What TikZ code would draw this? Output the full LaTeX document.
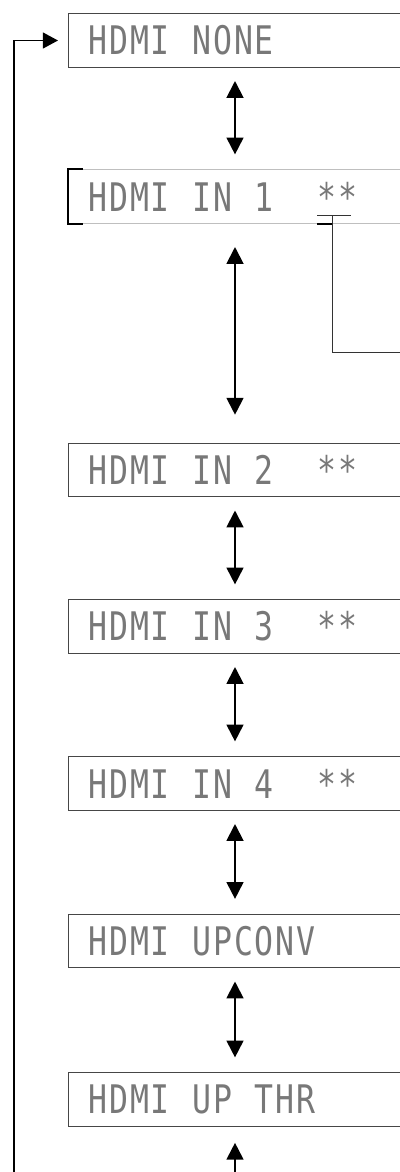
\documentclass[tikz,border=0pt]{standalone}
\usepackage{fontspec}
\newfontfamily\lcdfont[FakeStretch=0.8]{DejaVu Sans Mono}
\usetikzlibrary{arrows.meta, positioning, calc}
\definecolor{cadre}{RGB}{70,70,70}
\definecolor{lcd}{RGB}{120,120,120}
% un caractère par case, comme sur l'afficheur
\ExplSyntaxOn
\dim_new:N \l_lcd_pas_dim
\dim_set:Nn \l_lcd_pas_dim {0.52cm}
\NewDocumentCommand{\lcd}{m}
	{
		\str_map_inline:nn {#1}
			{
				\str_if_eq:eeTF {##1} {\c_tilde_str}
					{ \hbox_to_wd:nn { \l_lcd_pas_dim } { \hfil } }
					{ \hbox_to_wd:nn { \l_lcd_pas_dim } { ##1 \hfil } }
			}
	}
\ExplSyntaxOff

\begin{document}
\begin{tikzpicture}[x=0.025cm, y=-0.025cm,
				>=Triangle,
				ecran/.style={draw=cadre, line width=0.7pt, anchor=west,
					minimum height=1.34cm, text width=8cm, inner xsep=0.5cm,
					inner ysep=0pt, align=left, text=lcd,
					font=\lcdfont\fontsize{28}{30}\selectfont},
				fleche/.style={<->, line width=1.4pt,
					>={Triangle[length=0.42cm, width=0.42cm]},
					shorten <=0.33cm, shorten >=0.37cm},
				boucle/.style={->, line width=1.1pt,
					>={Triangle[length=0.38cm, width=0.4cm]}},
				liaison/.style={draw=black!80, line width=0.7pt}
				]
				\path[use as bounding box, clip] (0,0) rectangle (400,1172);
				
				% Les écrans
				\node[ecran] (b1) at (68,40.5)   {\lcd{HDMI~NONE}};
				\node[ecran, draw=black!25] (b2) at (68,196.5) {\lcd{HDMI~IN~1~~**}};
				\node[ecran] (b3) at (68,470)    {\lcd{HDMI~IN~2~~**}};
				\node[ecran] (b4) at (68,626.5)  {\lcd{HDMI~IN~3~~**}};
				\node[ecran] (b5) at (68,783.5)  {\lcd{HDMI~IN~4~~**}};
				\node[ecran] (b6) at (68,941)    {\lcd{HDMI~UPCONV}};
				\node[ecran] (b7) at (68,1099.5) {\lcd{HDMI~UP~THR}};
				
				\coordinate (axe) at (235,0);
				\coordinate (bas) at (235,1172);
				\coordinate (retour) at (14,1172);
				
				% Entre les écrans
				\draw[fleche] (b1.south -| axe) -- (b2.north -| axe);
				\draw[fleche, shorten <=0.58cm, shorten >=0.7cm] (b2.south -| axe) -- (b3.north -| axe);
				\foreach \a/\b in {b3/b4, b4/b5, b5/b6, b6/b7}
				\draw[fleche] (\a.south -| axe) -- (\b.north -| axe);
				\draw[fleche, <-, shorten <=0.4cm, shorten >=0pt] (b7.south -| axe) -- (bas);
				\draw[boucle, shorten >=0.25cm] (retour) |- (b1.west);
				
				% Repère sur HDMI IN 1
				\draw[line width=1.1pt] ($(b2.north west)+(15,0)$) -- (b2.north west)
					-- (b2.south west) -- ($(b2.south west)+(15,0)$);
				\coordinate (sg) at (317,215);
				\coordinate (sd) at (351,215);
				\coordinate (pied) at (332,215);
				\coordinate (sortie) at (405,352);
				\draw[liaison] (sg) -- (sd);
				\draw[line width=1.1pt] (sg |- b2.south) -- (pied |- b2.south);
				\draw[liaison] (pied) |- (sortie);
			\end{tikzpicture}
\end{document}
